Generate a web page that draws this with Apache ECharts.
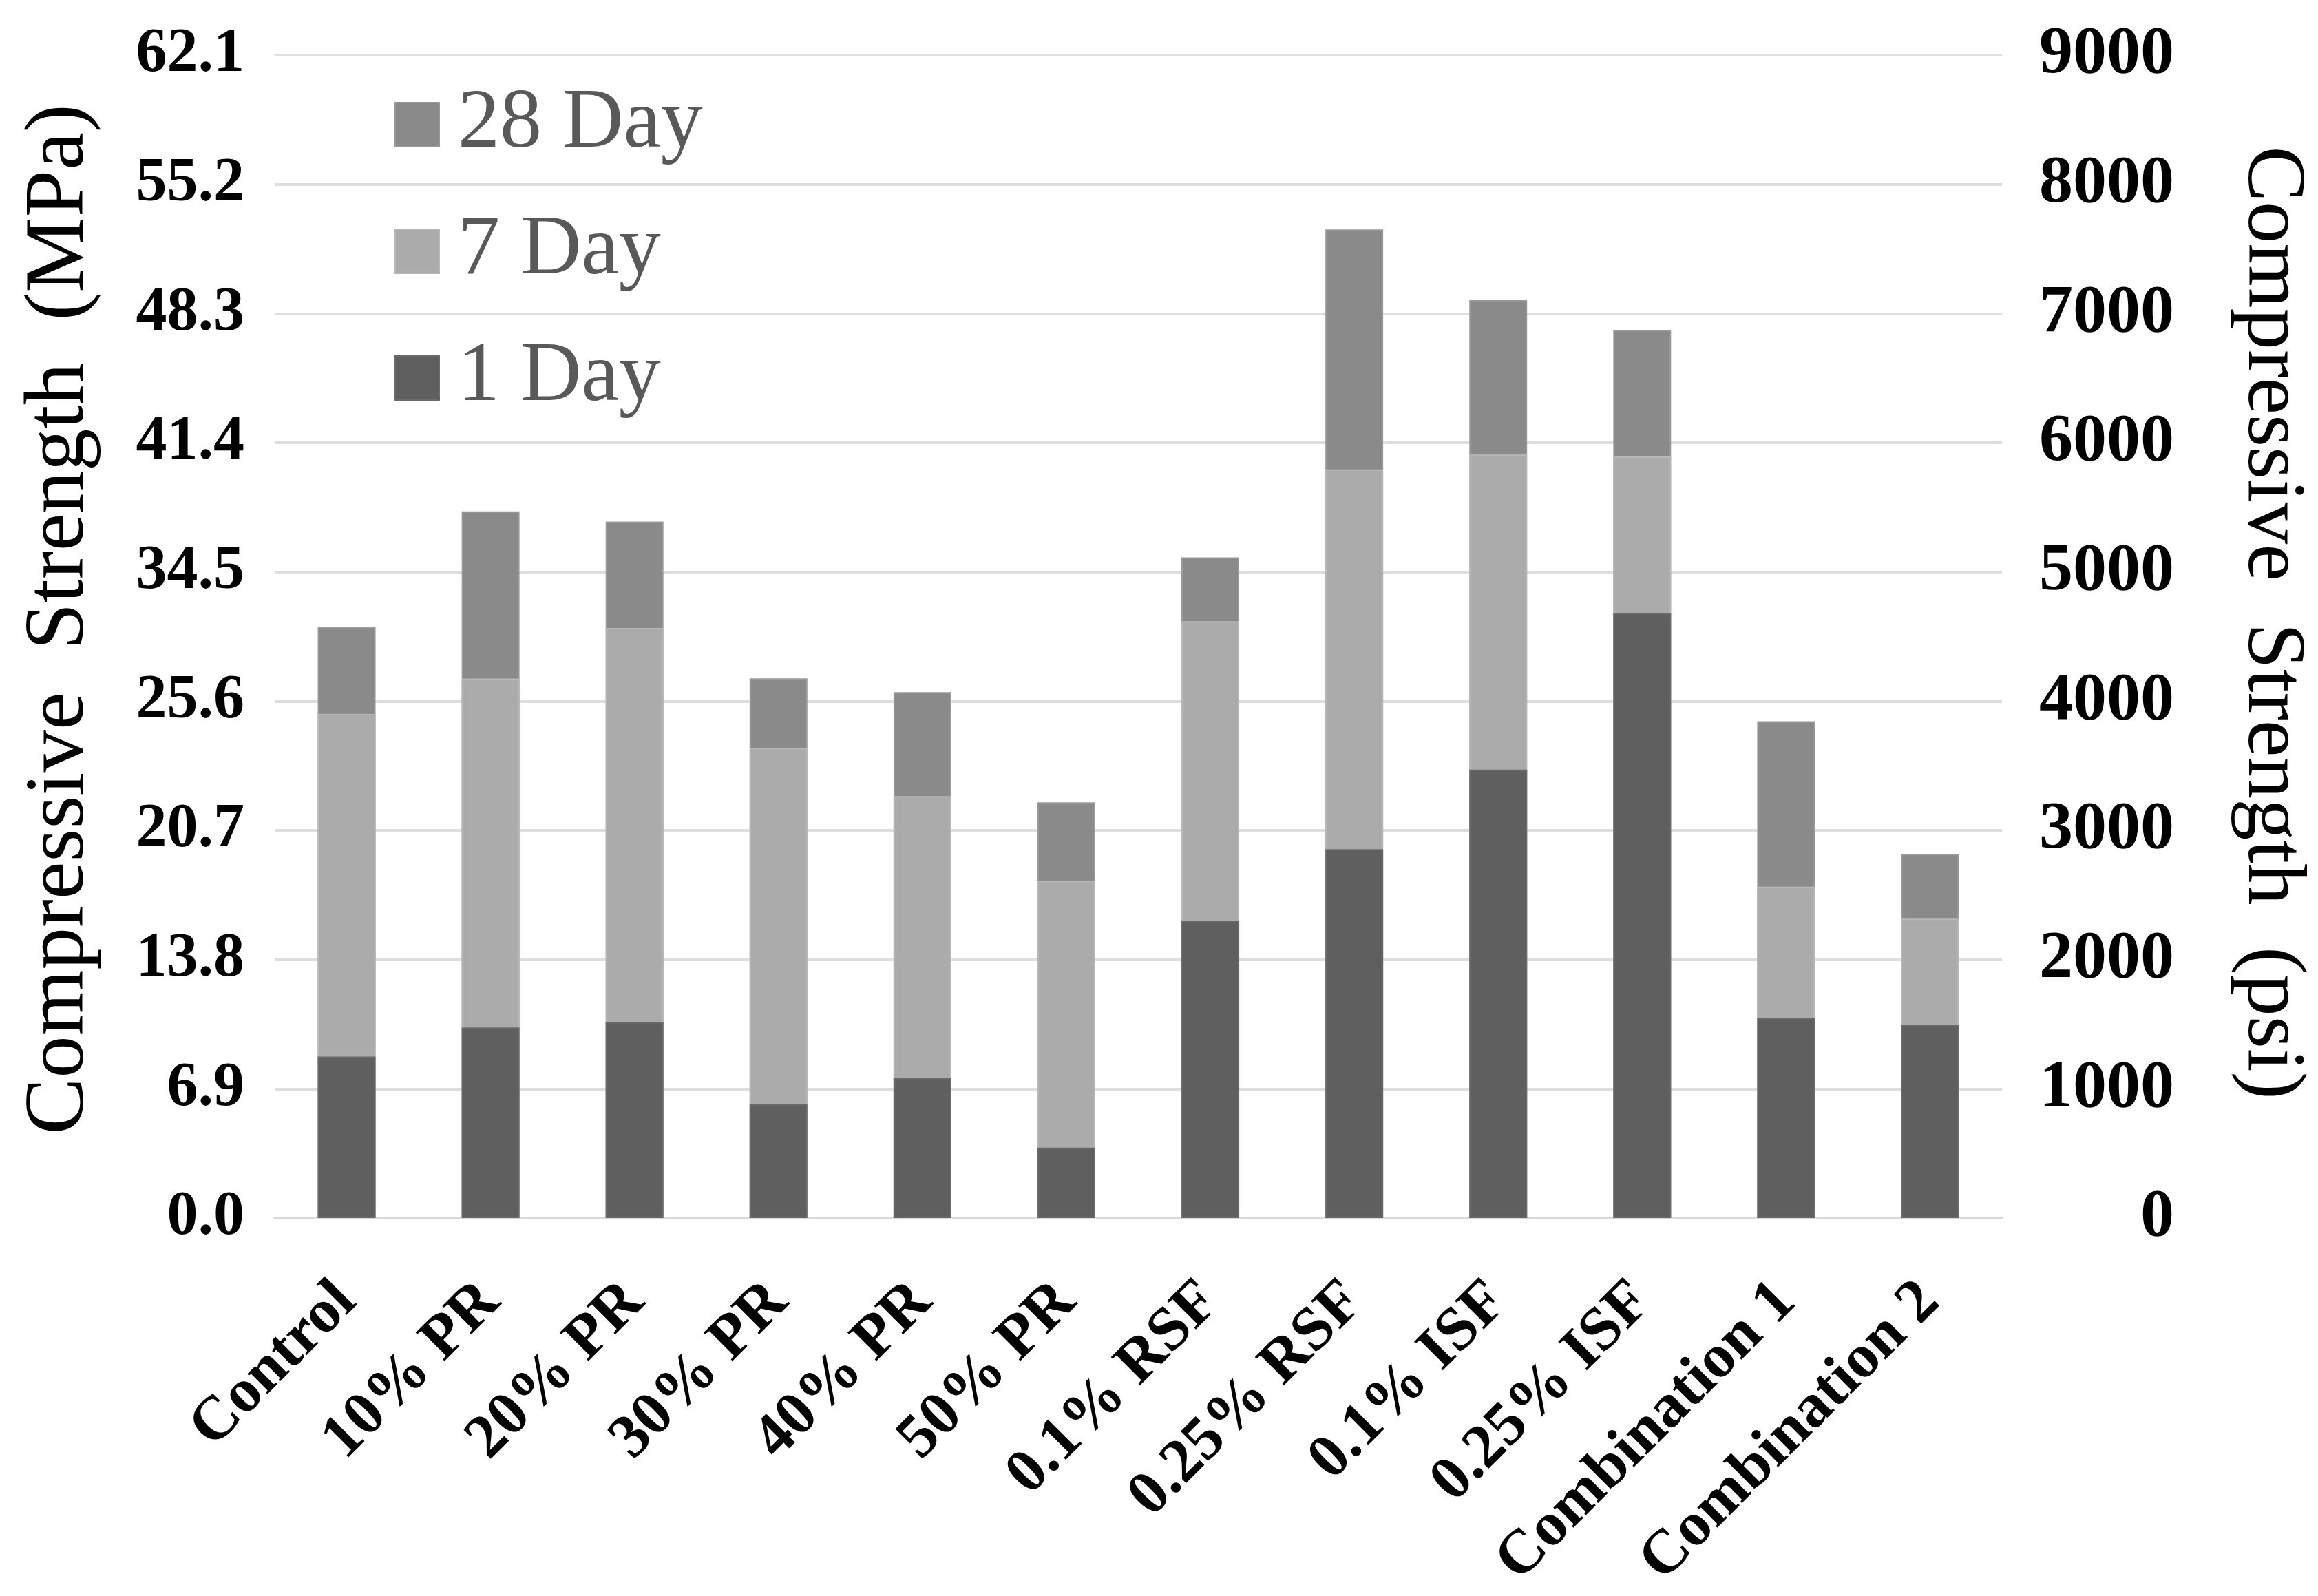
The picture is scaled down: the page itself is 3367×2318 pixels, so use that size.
<!DOCTYPE html>
<html>
<head>
<meta charset="utf-8">
<script src="https://cdn.jsdelivr.net/npm/echarts@6/dist/echarts.min.js"></script>
<style>
html,body{margin:0;padding:0;background:#fff;}
#chart{width:3367px;height:2318px;}
</style>
</head>
<body>
<div id="chart"></div>
<script>
// Categories
var categories = ['Control','10% PR','20% PR','30% PR','40% PR','50% PR','0.1% RSF','0.25% RSF','0.1% ISF','0.25% ISF','Combination 1','Combination 2'];
// Compressive strength (psi), each bar measured from zero
var day1  = [1250, 1475, 1515,  880, 1085,  545, 2300, 2855, 3470, 4680, 1548, 1497];
var day7  = [3900, 4175, 4567, 3640, 3265, 2610, 4618, 5793, 5908, 5893, 2565, 2317];
var day28 = [4575, 5468, 5390, 4176, 4070, 3217, 5113, 7651, 7104, 6872, 3845, 2818];
// Tick labels
var mpaTicks = ['0.0','6.9','13.8','20.7','25.6','34.5','41.4','48.3','55.2','62.1'];
var psiTicks = ['0','1000','2000','3000','4000','5000','6000','7000','8000','9000'];

var serif = '"Liberation Serif","Times New Roman",serif';
var chart = echarts.init(document.getElementById('chart'));
chart.setOption({
  backgroundColor: '#ffffff',
  animation: false,
  grid: {left: 399, right: 456, top: 80, bottom: 549},
  legend: {
    orient: 'vertical',
    left: 568, top: 115,
    data: ['28 Day','7 Day','1 Day'],
    itemWidth: 64, itemHeight: 64, itemGap: 62,
    icon: 'rect',
    textStyle: {fontFamily: serif, fontSize: 122, color: '#595959', lineHeight: 70, padding: [0,0,0,22]}
  },
  xAxis: {
    type: 'category',
    data: categories,
    axisLine: {show: true, lineStyle: {color: '#d9d9d9', width: 4}},
    axisTick: {show: false},
    axisLabel: {interval: 0, rotate: 45, margin: 108, fontFamily: serif, fontWeight: 'bold', fontSize: 90, color: '#000'}
  },
  yAxis: [{
    type: 'value', min: 0, max: 9000, interval: 1000, position: 'left',
    name: 'Compressive  Strength  (MPa)', nameLocation: 'middle', nameGap: 250, nameRotate: 90,
    nameTextStyle: {fontFamily: serif, fontSize: 123, color: '#000', padding: [0,0,0,50]},
    axisLine: {show: false}, axisTick: {show: false},
    splitLine: {show: true, lineStyle: {color: '#dedede', width: 4}},
    axisLabel: {margin: 44, fontFamily: serif, fontWeight: 'bold', fontSize: 90, color: '#000',
      formatter: function(v){ return mpaTicks[Math.round(v/1000)]; }}
  },{
    type: 'value', min: 0, max: 9000, interval: 1000, position: 'right',
    name: 'Compressive  Strength  (psi)', nameLocation: 'middle', nameGap: 330, nameRotate: -90,
    nameTextStyle: {fontFamily: serif, fontSize: 121, color: '#000', padding: [0,40,0,0]},
    axisLine: {show: false}, axisTick: {show: false}, splitLine: {show: false},
    axisLabel: {margin: 250, align: 'right', fontFamily: serif, fontWeight: 'bold', fontSize: 98, color: '#000',
      formatter: function(v){ return psiTicks[Math.round(v/1000)]; }}
  }],
  series: [
    {name: '28 Day', type: 'bar', data: day28, barWidth: 84, barGap: '-100%',
      itemStyle: {color: '#8a8a8a', borderColor: '#9a9a9a', borderWidth: 2}},
    {name: '7 Day', type: 'bar', data: day7, barWidth: 84, barGap: '-100%',
      itemStyle: {color: '#ababab', borderColor: '#b8b8b8', borderWidth: 2}},
    {name: '1 Day', type: 'bar', data: day1, barWidth: 84, barGap: '-100%',
      itemStyle: {color: '#5f5f5f', borderColor: '#6a6a6a', borderWidth: 2}}
  ]
});
</script>
</body>
</html>
